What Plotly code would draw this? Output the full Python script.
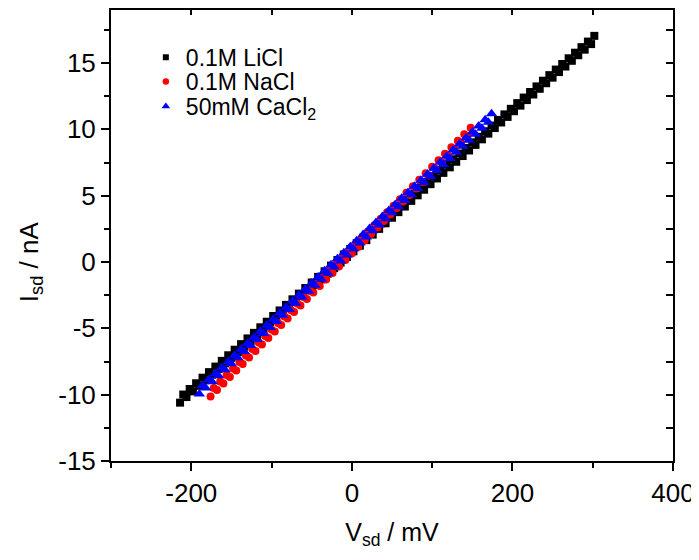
import plotly.graph_objects as go

# ---- data ----
# 0.1M LiCl (two sweep branches)
licl_v_a = [-210, -202, -194, -186, -178, -170, -162, -154, -146, -138, -130, -122, -114, -106, -98, -90,
            -82, -74, -66, -58, -50, -42, -34, -26, -18, -10, -2, 6, 14, 22, 30, 38, 46, 54, 62, 70,
            78, 86, 94, 102, 110, 118, 126, 134, 142, 150, 158, 166, 174, 182, 190, 198, 206, 214, 222,
            230, 238, 246, 254, 262, 270, 278, 286, 294, 302]
licl_i_a = [-9.99, -9.57, -9.14, -8.72, -8.30, -7.88, -7.45, -7.03, -6.61, -6.19, -5.76, -5.34, -4.92, -4.50,
            -4.07, -3.65, -3.23, -2.81, -2.38, -1.96, -1.54, -1.12, -0.70, -0.27, 0.15, 0.57, 0.99, 1.42,
            1.84, 2.26, 2.68, 3.11, 3.53, 3.95, 4.37, 4.80, 5.22, 5.64, 6.06, 6.49, 6.91, 7.33, 7.75, 8.18,
            8.60, 9.02, 9.44, 9.86, 10.29, 10.71, 11.13, 11.55, 11.98, 12.40, 12.82, 13.24, 13.67, 14.09,
            14.51, 14.93, 15.36, 15.78, 16.20, 16.62, 17.05]
licl_v_b = [-214, -206, -198, -190, -182, -174, -166, -158, -150, -142, -134, -126, -118, -110, -102, -94,
            -86, -78, -70, -62, -54, -46, -38, -30, -22, -14, -6, 2, 10, 18, 26, 34, 42, 50, 58, 66,
            74, 82, 90, 98, 106, 114, 122, 130, 138, 146, 154, 162, 170, 178, 186, 194, 202, 210, 218,
            226, 234, 242, 250, 258, 266, 274, 282, 290, 298]
licl_i_b = [-10.60, -10.18, -9.75, -9.33, -8.91, -8.49, -8.06, -7.64, -7.22, -6.80, -6.38, -5.95, -5.53,
            -5.11, -4.69, -4.26, -3.84, -3.42, -3.00, -2.57, -2.15, -1.73, -1.31, -0.88, -0.46, -0.04, 0.38,
            0.81, 1.23, 1.65, 2.07, 2.50, 2.92, 3.34, 3.76, 4.18, 4.61, 5.03, 5.45, 5.87, 6.30, 6.72, 7.14,
            7.56, 7.99, 8.41, 8.83, 9.25, 9.68, 10.10, 10.52, 10.94, 11.37, 11.79, 12.21, 12.63, 13.06,
            13.48, 13.90, 14.32, 14.74, 15.17, 15.59, 16.01, 16.43]

# 0.1M NaCl
nacl_v_a = [-172, -164, -156, -148, -140, -132, -124, -116, -108, -100, -92, -84, -76, -68, -60, -52, -44,
            -36, -28, -20, -12, -4, 4, 12, 20, 28, 36, 44, 52, 60, 68, 76, 84, 92, 100, 108, 116, 124,
            132, 140, 148]
nacl_i_a = [-9.49, -9.00, -8.51, -8.02, -7.53, -7.04, -6.55, -6.06, -5.57, -5.08, -4.59, -4.10, -3.61,
            -3.12, -2.63, -2.14, -1.65, -1.16, -0.67, -0.18, 0.31, 0.80, 1.30, 1.79, 2.28, 2.77, 3.26,
            3.75, 4.24, 4.73, 5.22, 5.71, 6.20, 6.69, 7.18, 7.67, 8.16, 8.65, 9.14, 9.63, 10.12]
nacl_v_b = [-176, -168, -160, -152, -144, -136, -128, -120, -112, -104, -96, -88, -80, -72, -64, -56, -48,
            -40, -32, -24, -16, -8, 0, 8, 16, 24, 32, 40, 48, 56, 64, 72, 80, 88, 96, 104, 112, 120,
            128, 136, 144]
nacl_i_b = [-10.14, -9.65, -9.16, -8.67, -8.18, -7.69, -7.20, -6.71, -6.22, -5.73, -5.23, -4.74, -4.25,
            -3.76, -3.27, -2.78, -2.29, -1.80, -1.31, -0.82, -0.33, 0.16, 0.65, 1.14, 1.63, 2.12, 2.61,
            3.10, 3.59, 4.08, 4.57, 5.06, 5.55, 6.04, 6.53, 7.03, 7.52, 8.01, 8.50, 8.99, 9.48]

# 50mM CaCl2
cacl_v_a = [-186, -178, -170, -162, -154, -146, -138, -130, -122, -114, -106, -98, -90, -82, -74, -66, -58,
            -50, -42, -34, -26, -18, -10, -2, 6, 14, 22, 30, 38, 46, 54, 62, 70, 78, 86, 94, 102, 110,
            118, 126, 134, 142, 150, 158, 166, 174]
cacl_i_a = [-9.31, -8.86, -8.40, -7.95, -7.49, -7.04, -6.58, -6.13, -5.67, -5.22, -4.76, -4.31, -3.85,
            -3.40, -2.94, -2.49, -2.03, -1.58, -1.12, -0.66, -0.21, 0.25, 0.70, 1.16, 1.61, 2.07, 2.52,
            2.98, 3.43, 3.89, 4.34, 4.80, 5.25, 5.71, 6.16, 6.62, 7.07, 7.53, 7.98, 8.44, 8.89, 9.35,
            9.81, 10.26, 10.72, 11.17]
cacl_v_b = [-190, -182, -174, -166, -158, -150, -142, -134, -126, -118, -110, -102, -94, -86, -78, -70, -62,
            -54, -46, -38, -30, -22, -14, -6, 2, 10, 18, 26, 34, 42, 50, 58, 66, 74, 82, 90, 98, 106,
            114, 122, 130, 138, 146, 154, 162, 170]
cacl_i_b = [-9.94, -9.49, -9.03, -8.58, -8.12, -7.67, -7.21, -6.75, -6.30, -5.84, -5.39, -4.93, -4.48,
            -4.02, -3.57, -3.11, -2.66, -2.20, -1.75, -1.29, -0.84, -0.38, 0.07, 0.53, 0.98, 1.44, 1.89,
            2.35, 2.80, 3.26, 3.72, 4.17, 4.63, 5.08, 5.54, 5.99, 6.45, 6.90, 7.36, 7.81, 8.27, 8.72,
            9.18, 9.63, 10.09, 10.54]

series_names = ["0.1M LiCl", "0.1M NaCl", "50mM CaCl<sub>2</sub>"]
x_tick_vals = [-200, 0, 200, 400]
x_tick_text = ["-200", "0", "200", "400"]
y_tick_vals = [-15, -10, -5, 0, 5, 10, 15]
y_tick_text = ["-15", "-10", "-5", "0", "5", "10", "15"]
x_range = [-300, 400]
y_range = [-15, 19]

FONT = "Liberation Sans, Arial, sans-serif"
colors = ["#000000", "#ff0000", "#0000ff"]
symbols = ["square", "circle", "triangle-up"]
plot_sizes = [8, 8, 10]
legend_sizes = [6, 6.5, 7.5]
legend_ids = ["legend", "legend2", "legend3"]

fig = go.Figure()
data_sets = [(licl_v_a + licl_v_b, licl_i_a + licl_i_b),
             (nacl_v_a + nacl_v_b, nacl_i_a + nacl_i_b),
             (cacl_v_a + cacl_v_b, cacl_i_a + cacl_i_b)]
for k, (xv, yv) in enumerate(data_sets):
    fig.add_trace(go.Scatter(x=xv, y=yv, mode="markers", name=series_names[k], showlegend=False,
                             marker=dict(symbol=symbols[k], size=plot_sizes[k], color=colors[k],
                                         line=dict(width=0))))
# legend entries (smaller symbols, as in the reference)
for k in range(3):
    fig.add_trace(go.Scatter(x=[None], y=[None], mode="markers", name=series_names[k],
                             legend=legend_ids[k], showlegend=True,
                             marker=dict(symbol=symbols[k], size=legend_sizes[k], color=colors[k],
                                         line=dict(width=0))))
# empty trace to activate the mirrored (top / right) tick axes
fig.add_trace(go.Scatter(x=[], y=[], xaxis="x2", yaxis="y2", showlegend=False, hoverinfo="skip"))

leg_common = dict(x=0.062, xanchor="left", yanchor="top",
                  font=dict(family=FONT, size=23, color="black"),
                  bgcolor="rgba(0,0,0,0)")

fig.update_layout(
    width=691, height=542,
    margin=dict(l=103, r=26, t=2, b=89),
    paper_bgcolor="white", plot_bgcolor="white",
    font=dict(family=FONT, color="black", size=26),
    showlegend=True,
    legend=dict(y=0.943, **leg_common),
    legend2=dict(y=0.889, **leg_common),
    legend3=dict(y=0.834, **leg_common),
    xaxis=dict(range=x_range, tickmode="array", tickvals=x_tick_vals, ticktext=x_tick_text,
               ticks="outside", ticklen=8, tickwidth=1.5, tickcolor="black",
               minor=dict(ticks="outside", dtick=100, ticklen=5, tickwidth=1.5, tickcolor="black"),
               showline=True, linewidth=2, linecolor="black", showgrid=False, zeroline=False,
               tickfont=dict(family=FONT, size=26, color="black"),
               title=dict(text="V<sub>sd</sub> / mV", font=dict(family=FONT, size=25, color="black"),
                          standoff=20)),
    yaxis=dict(range=y_range, tickmode="array", tickvals=y_tick_vals, ticktext=y_tick_text,
               ticks="outside", ticklen=8, tickwidth=1.5, tickcolor="black",
               minor=dict(ticks="outside", dtick=2.5, tick0=0, ticklen=5, tickwidth=1.5, tickcolor="black"),
               showline=True, linewidth=2, linecolor="black", showgrid=False, zeroline=False,
               tickfont=dict(family=FONT, size=26, color="black")),
    xaxis2=dict(range=x_range, overlaying="x", anchor="y2", side="top", dtick=100, tick0=0,
                ticks="inside", ticklen=5, tickwidth=1.5, tickcolor="black",
                showticklabels=False, showline=True, linewidth=2, linecolor="black",
                showgrid=False, zeroline=False),
    yaxis2=dict(range=y_range, overlaying="y", anchor="x2", side="right", dtick=2.5, tick0=0,
                ticks="inside", ticklen=7, tickwidth=1.5, tickcolor="black",
                showticklabels=False, showline=True, linewidth=2, linecolor="black",
                showgrid=False, zeroline=False),
    annotations=[dict(text="I<sub>sd</sub> / nA", textangle=-90, xref="paper", yref="paper",
                      x=-0.144, y=0.441, xanchor="center", yanchor="middle", showarrow=False,
                      font=dict(family=FONT, size=26, color="black"))],
)

fig.write_html("out.html")
